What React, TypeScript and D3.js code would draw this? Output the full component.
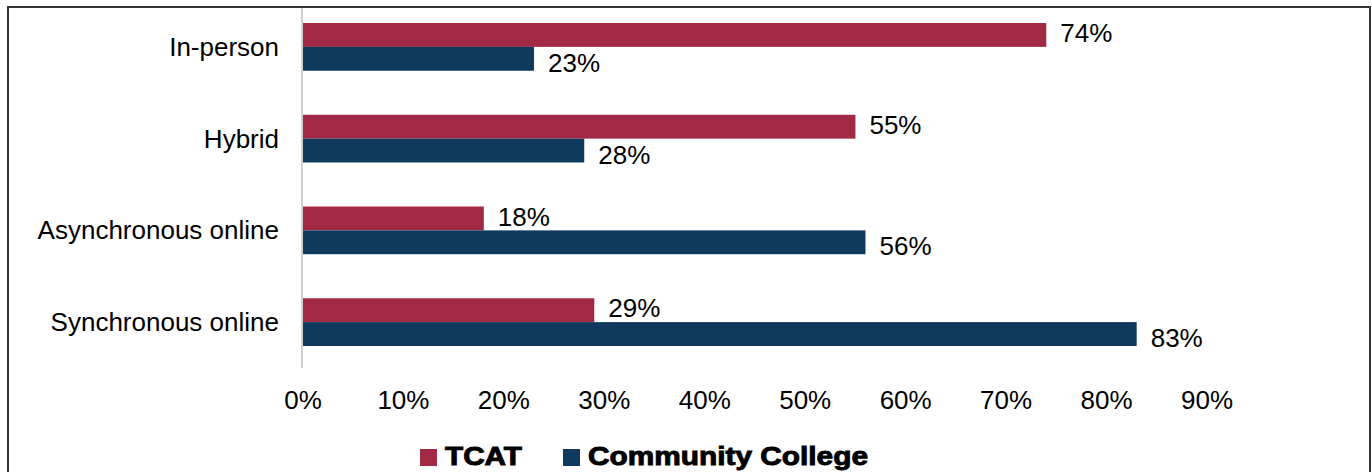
import React from "react";
import * as d3 from "d3";

const categories = ["In-person", "Hybrid", "Asynchronous online", "Synchronous online"];
const seriesNames = ["TCAT", "Community College"];
const tcatValues = [74, 55, 18, 29];
const ccValues = [23, 28, 56, 83];
const xTicks = [0, 10, 20, 30, 40, 50, 60, 70, 80, 90];
const colors = ["#A22943", "#0F3A5E"];

const W = 1372;
const H = 472;

export default function App() {
  const x = d3.scaleLinear().domain([0, 90]).range([303, 1207]);
  const y = d3.scaleBand<string>().domain(categories).range([1, 368]).paddingInner(0.48).paddingOuter(0.24);
  const bh = y.bandwidth() / 2;
  const font = "Liberation Sans, Arial, sans-serif";
  const series = [tcatValues, ccValues];
  return (
    <svg width={W} height={H} style={{ position: "absolute", left: 0, top: 0, background: "#fff" }} fontFamily={font}>
      <rect x={8} y={7} width={1362} height={490} fill="#fff" stroke="#333" strokeWidth={2} />
      <line x1={302} x2={302} y1={8} y2={368} stroke="#d0d0d0" strokeWidth={2} />
      {categories.map((c, i) => (
        <g key={c}>
          <text x={279} y={(y(c) as number) + y.bandwidth() / 2} dy="0.35em" textAnchor="end" fontSize={26} fill="#000">{c}</text>
          {series.map((vals, s) => {
            const top = (y(c) as number) + s * bh;
            return (
              <g key={s}>
                <rect x={x(0)} y={top} width={x(vals[i]) - x(0)} height={bh} fill={colors[s]} />
                <text x={x(vals[i]) + 14} y={top + bh / 2 + (s === 0 ? -2 : 4)} dy="0.35em" fontSize={26} fill="#000">{vals[i]}%</text>
              </g>
            );
          })}
        </g>
      ))}
      {xTicks.map((t) => (
        <text key={t} x={x(t)} y={409} textAnchor="middle" fontSize={26} fill="#000">{t}%</text>
      ))}
      <rect x={420} y={449} width={17} height={17} fill={colors[0]} />
      <text x={445} y={465} fontSize={25} fontWeight={900} fill="#000" stroke="#000" strokeWidth={0.9} textLength={77} lengthAdjust="spacingAndGlyphs">{seriesNames[0]}</text>
      <rect x={563} y={449} width={17} height={17} fill={colors[1]} />
      <text x={588} y={465} fontSize={25} fontWeight={900} fill="#000" stroke="#000" strokeWidth={0.9} textLength={280} lengthAdjust="spacingAndGlyphs">{seriesNames[1]}</text>
    </svg>
  );
}
